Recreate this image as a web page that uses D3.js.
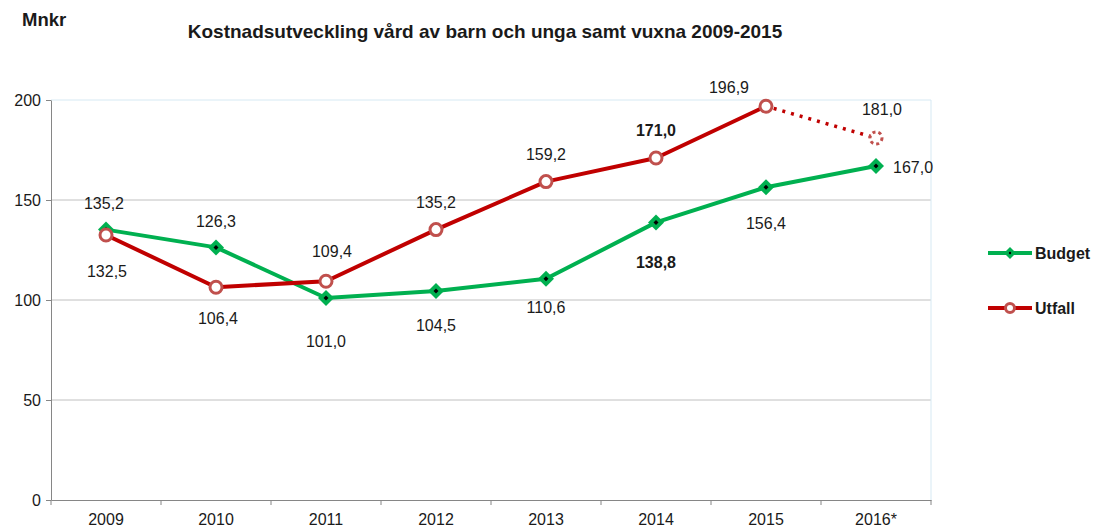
<!DOCTYPE html>
<html><head><meta charset="utf-8">
<script src="https://cdn.jsdelivr.net/npm/d3@7"></script>
<style>body{margin:0;background:#fff;font-family:"Liberation Sans",Arial,sans-serif;}</style>
</head><body><svg id="c" width="1095" height="528"></svg>
<script>
const categories = ["2009","2010","2011","2012","2013","2014","2015","2016*"];
const budget = [135.2,126.3,101.0,104.5,110.6,138.8,156.4,167.0];
const utfall = [132.5,106.4,109.4,135.2,159.2,171.0,196.9,181.0];
const yTicks = [0,50,100,150,200];
const boldLabels = {budget:[5], utfall:[5]};

// label layout (offset of label centre from marker), kept separate from data
const budgetLabelOffset = [[-2,-26],[0,-26],[0,43],[0,34],[0,29],[0,40],[0,36],["r",1]];
const utfallLabelOffset = [[1,36],[2,31],[6,-30],[0,-27],[0,-27],[0,-28],[-37,-19],[6,-29]];

const svg = d3.select("#c");
const L=51, R=931, T=100, B=500;
const FONT = "Liberation Sans, Arial, sans-serif";
const x = d3.scaleBand().domain(categories).range([L,R]);
const y = d3.scaleLinear().domain([0,200]).range([B,T]);
const cx = d => x(d)+x.bandwidth()/2;
const fmt = v => v.toFixed(1).replace(".",",");

// gridlines
yTicks.filter(t=>t>0).forEach(t=>{
  svg.append("line").attr("x1",L).attr("x2",R).attr("y1",y(t)).attr("y2",y(t))
    .attr("stroke", t===200?"#d6e9f3":"#c0c0c0").attr("stroke-width",1);
});
svg.append("line").attr("x1",R).attr("x2",R).attr("y1",T).attr("y2",B).attr("stroke","#d6e9f3");

// axes
const ya = svg.append("g").attr("transform",`translate(${L},0)`)
  .call(d3.axisLeft(y).tickValues(yTicks).tickSize(5).tickSizeOuter(0));
ya.select(".domain").attr("stroke","#868686");
ya.selectAll(".tick line").attr("stroke","#868686");
ya.selectAll("text").attr("font-size",16).attr("fill","#1a1a1a").attr("font-family",FONT).attr("dx",-2);

const xa = svg.append("g").attr("transform",`translate(0,${B})`)
  .call(d3.axisBottom(x).tickSize(0).tickSizeOuter(0).tickPadding(14));
xa.select(".domain").attr("stroke","#868686");
xa.selectAll("text").attr("font-size",16).attr("fill","#1a1a1a").attr("font-family",FONT);
categories.forEach(c=>{
  svg.append("line").attr("x1",x(c)).attr("x2",x(c)).attr("y1",B).attr("y2",B+5).attr("stroke","#868686");
});
svg.append("line").attr("x1",R).attr("x2",R).attr("y1",B).attr("y2",B+5).attr("stroke","#868686");

const green="#00b050", red="#c00000", redM="#c0504d";
const line = d3.line().x(d=>cx(d.c)).y(d=>y(d.v));
const bData = categories.map((c,i)=>({c,v:budget[i]}));
const uData = categories.map((c,i)=>({c,v:utfall[i]}));

svg.append("path").datum(bData).attr("d",line).attr("fill","none").attr("stroke",green).attr("stroke-width",4).attr("stroke-linejoin","round");
svg.append("path").datum(uData.slice(0,7)).attr("d",line).attr("fill","none").attr("stroke",red).attr("stroke-width",4).attr("stroke-linejoin","round");
svg.append("path").datum(uData.slice(6)).attr("d",line).attr("fill","none").attr("stroke",red).attr("stroke-width",3.5)
  .attr("stroke-dasharray","3,6").attr("stroke-dashoffset",-8);

// budget markers
bData.forEach(d=>{
  const X=cx(d.c), Y=y(d.v);
  svg.append("path").attr("d",`M${X},${Y-8}L${X+8},${Y}L${X},${Y+8}L${X-8},${Y}Z`).attr("fill",green);
  svg.append("path").attr("d",`M${X},${Y-2.5}L${X+2.5},${Y}L${X},${Y+2.5}L${X-2.5},${Y}Z`).attr("fill","#000");
});
// utfall markers
uData.forEach((d,i)=>{
  const c = svg.append("circle").attr("cx",cx(d.c)).attr("cy",y(d.v)).attr("r",6)
    .attr("fill","#fff").attr("stroke",redM).attr("stroke-width",3);
  if(i===7) c.attr("stroke-dasharray","3,3");
});

function label(d,off,bold){
  let X=cx(d.c), Y=y(d.v)+off[1], anchor="middle";
  if(off[0]==="r"){X+=17; anchor="start";} else X+=off[0];
  svg.append("text").attr("x",X).attr("y",Y).attr("dy","0.35em").attr("text-anchor",anchor)
    .attr("font-size",16).attr("font-family",FONT).attr("fill","#1a1a1a").attr("font-weight",bold?"bold":"normal").text(fmt(d.v));
}
bData.forEach((d,i)=>label(d,budgetLabelOffset[i],boldLabels.budget.includes(i)));
uData.forEach((d,i)=>label(d,utfallLabelOffset[i],boldLabels.utfall.includes(i)));

// title
svg.append("text").attr("x",22).attr("y",26).attr("font-size",18.5).attr("font-family",FONT).attr("font-weight","bold").attr("fill","#1a1a1a").text("Mnkr");
svg.append("text").attr("x",485).attr("y",38).attr("text-anchor","middle").attr("font-size",19).attr("font-family",FONT).attr("font-weight","bold").attr("fill","#1a1a1a")
  .text("Kostnadsutveckling vård av barn och unga samt vuxna 2009-2015");

// legend
const leg=[{n:"Budget",c:green,y:253,t:"b"},{n:"Utfall",c:red,y:308,t:"u"}];
leg.forEach(l=>{
  svg.append("line").attr("x1",988).attr("x2",1032).attr("y1",l.y).attr("y2",l.y).attr("stroke",l.c).attr("stroke-width",4);
  if(l.t==="b"){
    svg.append("path").attr("d",`M1010,${l.y-6}L1016,${l.y}L1010,${l.y+6}L1004,${l.y}Z`).attr("fill",green);
    svg.append("circle").attr("cx",1010).attr("cy",l.y).attr("r",1.2).attr("fill","#000");
  } else {
    svg.append("circle").attr("cx",1010).attr("cy",l.y).attr("r",4.5).attr("fill","#fff").attr("stroke",redM).attr("stroke-width",3);
  }
  svg.append("text").attr("x",1035).attr("y",l.y).attr("dy","0.35em").attr("font-size",16).attr("font-family",FONT).attr("font-weight","bold").attr("fill","#1a1a1a").text(l.n);
});
</script></body></html>
